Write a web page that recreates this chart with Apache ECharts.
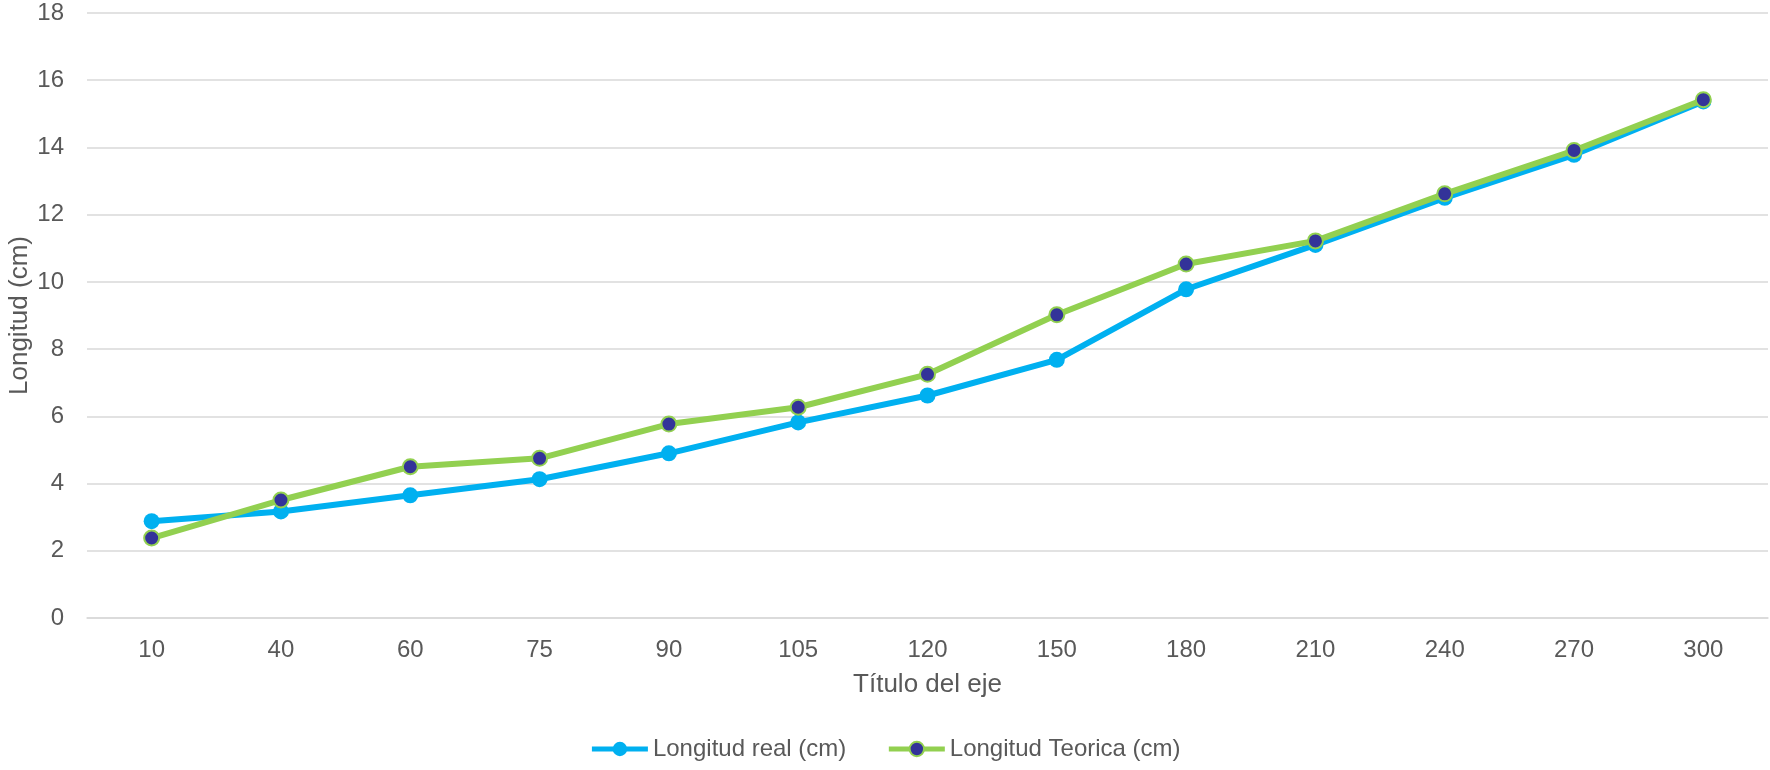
<!DOCTYPE html>
<html>
<head>
<meta charset="utf-8">
<script src="https://cdn.jsdelivr.net/npm/echarts@6/dist/echarts.min.js"></script>
<style>
html,body{margin:0;padding:0;background:#fff;}
#chart{width:1770px;height:770px;}
</style>
</head>
<body>
<div id="chart"></div>
<script>
const categories = ['10','40','60','75','90','105','120','150','180','210','240','270','300'];
const longitudReal = [2.88, 3.17, 3.65, 4.13, 4.90, 5.82, 6.62, 7.68, 9.78, 11.1, 12.5, 13.78, 15.37];
const longitudTeorica = [2.38, 3.51, 4.50, 4.75, 5.77, 6.27, 7.25, 9.02, 10.53, 11.22, 12.62, 13.91, 15.42];
const seriesNames = ['Longitud real (cm)', 'Longitud Teorica (cm)'];
const xTitle = 'Título del eje';
const yTitle = 'Longitud (cm)';

const font = 'Liberation Sans, Arial, sans-serif';
const chart = echarts.init(document.getElementById('chart'), null, {renderer: 'canvas'});
chart.setOption({
  animation: false,
  backgroundColor: '#ffffff',
  textStyle: {fontFamily: font, color: '#595959'},
  grid: {left: 87, right: 2, top: 13, bottom: 152, containLabel: false, outerBoundsMode: 'none'},
  legend: {
    bottom: 4,
    left: 'center',
    itemWidth: 56,
    itemHeight: 18,
    itemGap: 40,
    lineStyle: {width: 5},
    textStyle: {fontFamily: font, fontSize: 24, color: '#595959'},
    data: seriesNames
  },
  xAxis: {
    type: 'category',
    data: categories,
    boundaryGap: true,
    name: xTitle,
    nameLocation: 'middle',
    nameGap: 54,
    nameMoveOverlap: false,
    nameTextStyle: {fontFamily: font, fontSize: 26, color: '#595959'},
    axisLine: {show: true, lineStyle: {color: '#D9D9D9', width: 1.5}},
    axisTick: {show: false},
    axisLabel: {fontFamily: font, fontSize: 24, color: '#595959', margin: 20}
  },
  yAxis: {
    type: 'value',
    min: 0,
    max: 18,
    interval: 2,
    name: yTitle,
    nameLocation: 'middle',
    nameGap: 54,
    nameMoveOverlap: false,
    nameTextStyle: {fontFamily: font, fontSize: 26, color: '#595959'},
    axisLine: {show: false},
    axisTick: {show: false},
    axisLabel: {fontFamily: font, fontSize: 24, color: '#595959', margin: 23},
    splitLine: {lineStyle: {color: '#D9D9D9', width: 1.5}}
  },
  series: [
    {
      name: seriesNames[0],
      type: 'line',
      data: longitudReal,
      symbol: 'circle',
      symbolSize: 16,
      lineStyle: {color: '#00B0F0', width: 6},
      itemStyle: {color: '#00B0F0', borderColor: '#00B0F0', borderWidth: 0},
      z: 2
    },
    {
      name: seriesNames[1],
      type: 'line',
      data: longitudTeorica,
      symbol: 'circle',
      symbolSize: 15,
      lineStyle: {color: '#92D050', width: 6},
      itemStyle: {color: '#333399', borderColor: '#92D050', borderWidth: 2},
      z: 3
    }
  ]
});
</script>
</body>
</html>
